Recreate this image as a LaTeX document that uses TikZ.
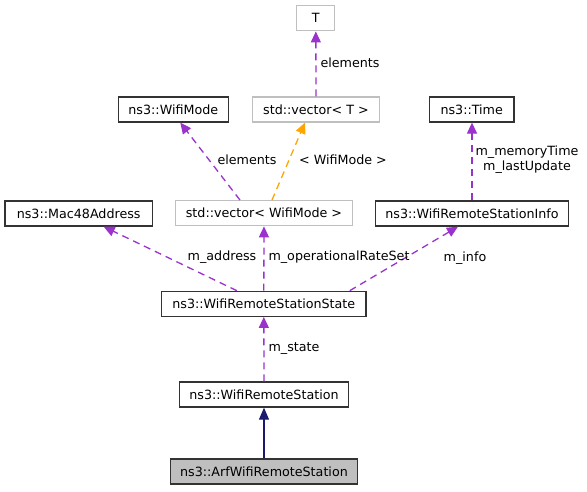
\documentclass[tikz,border=0pt]{standalone}
\usepackage{fontspec}
\setmainfont{DejaVu Sans}
\usetikzlibrary{arrows.meta}
\definecolor{memberpurple}{HTML}{9A32CD}
\definecolor{tmplorange}{HTML}{FFA500}
\definecolor{tmplgrey}{HTML}{BFBFBF}
\definecolor{basenavy}{HTML}{191970}

\begin{document}
\begin{tikzpicture}[x=1pt,y=-1pt,
	cls/.style={draw=black!80,line width=1.3pt,inner sep=0pt,minimum height=25pt,font=\fontsize{12.7}{15.2}\selectfont},
	tmplcls/.style={cls,draw=tmplgrey},
	lbl/.style={inner sep=0pt,font=\fontsize{12.7}{15.2}\selectfont,align=center},
	member/.style={memberpurple,line width=1.3pt,dash pattern=on 7pt off 5pt,-{Triangle[length=11pt,width=10pt]}},
	tmplarg/.style={member,tmplorange},
	base/.style={basenavy,line width=1.2pt,-{Triangle[length=12pt,width=10pt]}}]
	\useasboundingbox (0,0) rectangle (587,491);

	\node[tmplcls,minimum width=38pt] (T) at (315.8,18.3) {T};
	\node[tmplcls,minimum width=126.6pt] (vecT) at (316,109.4) {std::vector< T >};
	\node[cls,minimum width=110pt] (mode) at (173.3,109.5) {ns3::WifiMode};
	\node[cls,minimum width=84.7pt] (time) at (471.7,109.5) {ns3::Time};
	\node[cls,minimum width=147.3pt] (mac) at (78.7,213.5) {ns3::Mac48Address};
	\node[tmplcls,minimum width=176.6pt] (vecMode) at (264,213.2) {std::vector< WifiMode >};
	\node[cls,minimum width=192.6pt] (info) at (472,213.5) {ns3::WifiRemoteStationInfo};
	\node[cls,minimum width=204.3pt] (state) at (263.8,303.8) {ns3::WifiRemoteStationState};
	\node[cls,minimum width=169.4pt] (station) at (264,394.5) {ns3::WifiRemoteStation};
	\node[cls,fill=tmplgrey,minimum width=186.6pt] (arf) at (264,471.6) {ns3::ArfWifiRemoteStation};

	\draw[member] (vecT) -- (T);
	\draw[member] ([xshift=-24pt]vecMode.north) -- ([xshift=7pt]mode.south);
	\draw[tmplarg] ([xshift=8pt]vecMode.north) -- ([xshift=-11pt]vecT.south);
	\draw[member] (info) -- (info |- time.south);
	\draw[member] ([xshift=-27pt]state.north) -- ([xshift=25pt]mac.south);
	\draw[member] (state) -- (vecMode);
	\draw[member] ([xshift=86pt]state.north) -- ([xshift=-14pt]info.south);
	\draw[member] (station) -- (state);
	\draw[base] (arf) -- (station);

	\node[lbl] (lblElemT) at (350,62.3) {elements};
	\node[lbl] (lblElemMode) at (247,160) {elements};
	\node[lbl] (lblArg) at (343,160) {< WifiMode >};
	\node[lbl] (lblTime) at (527,160) {m\_memoryTime\\m\_lastUpdate};
	\node[lbl] (lblAddr) at (222,257.3) {m\_address};
	\node[lbl] (lblRates) at (339,257.3) {m\_operationalRateSet};
	\node[lbl] (lblInfo) at (465,257.7) {m\_info};
	\node[lbl] (lblState) at (294,349) {m\_state};
\end{tikzpicture}
\end{document}
